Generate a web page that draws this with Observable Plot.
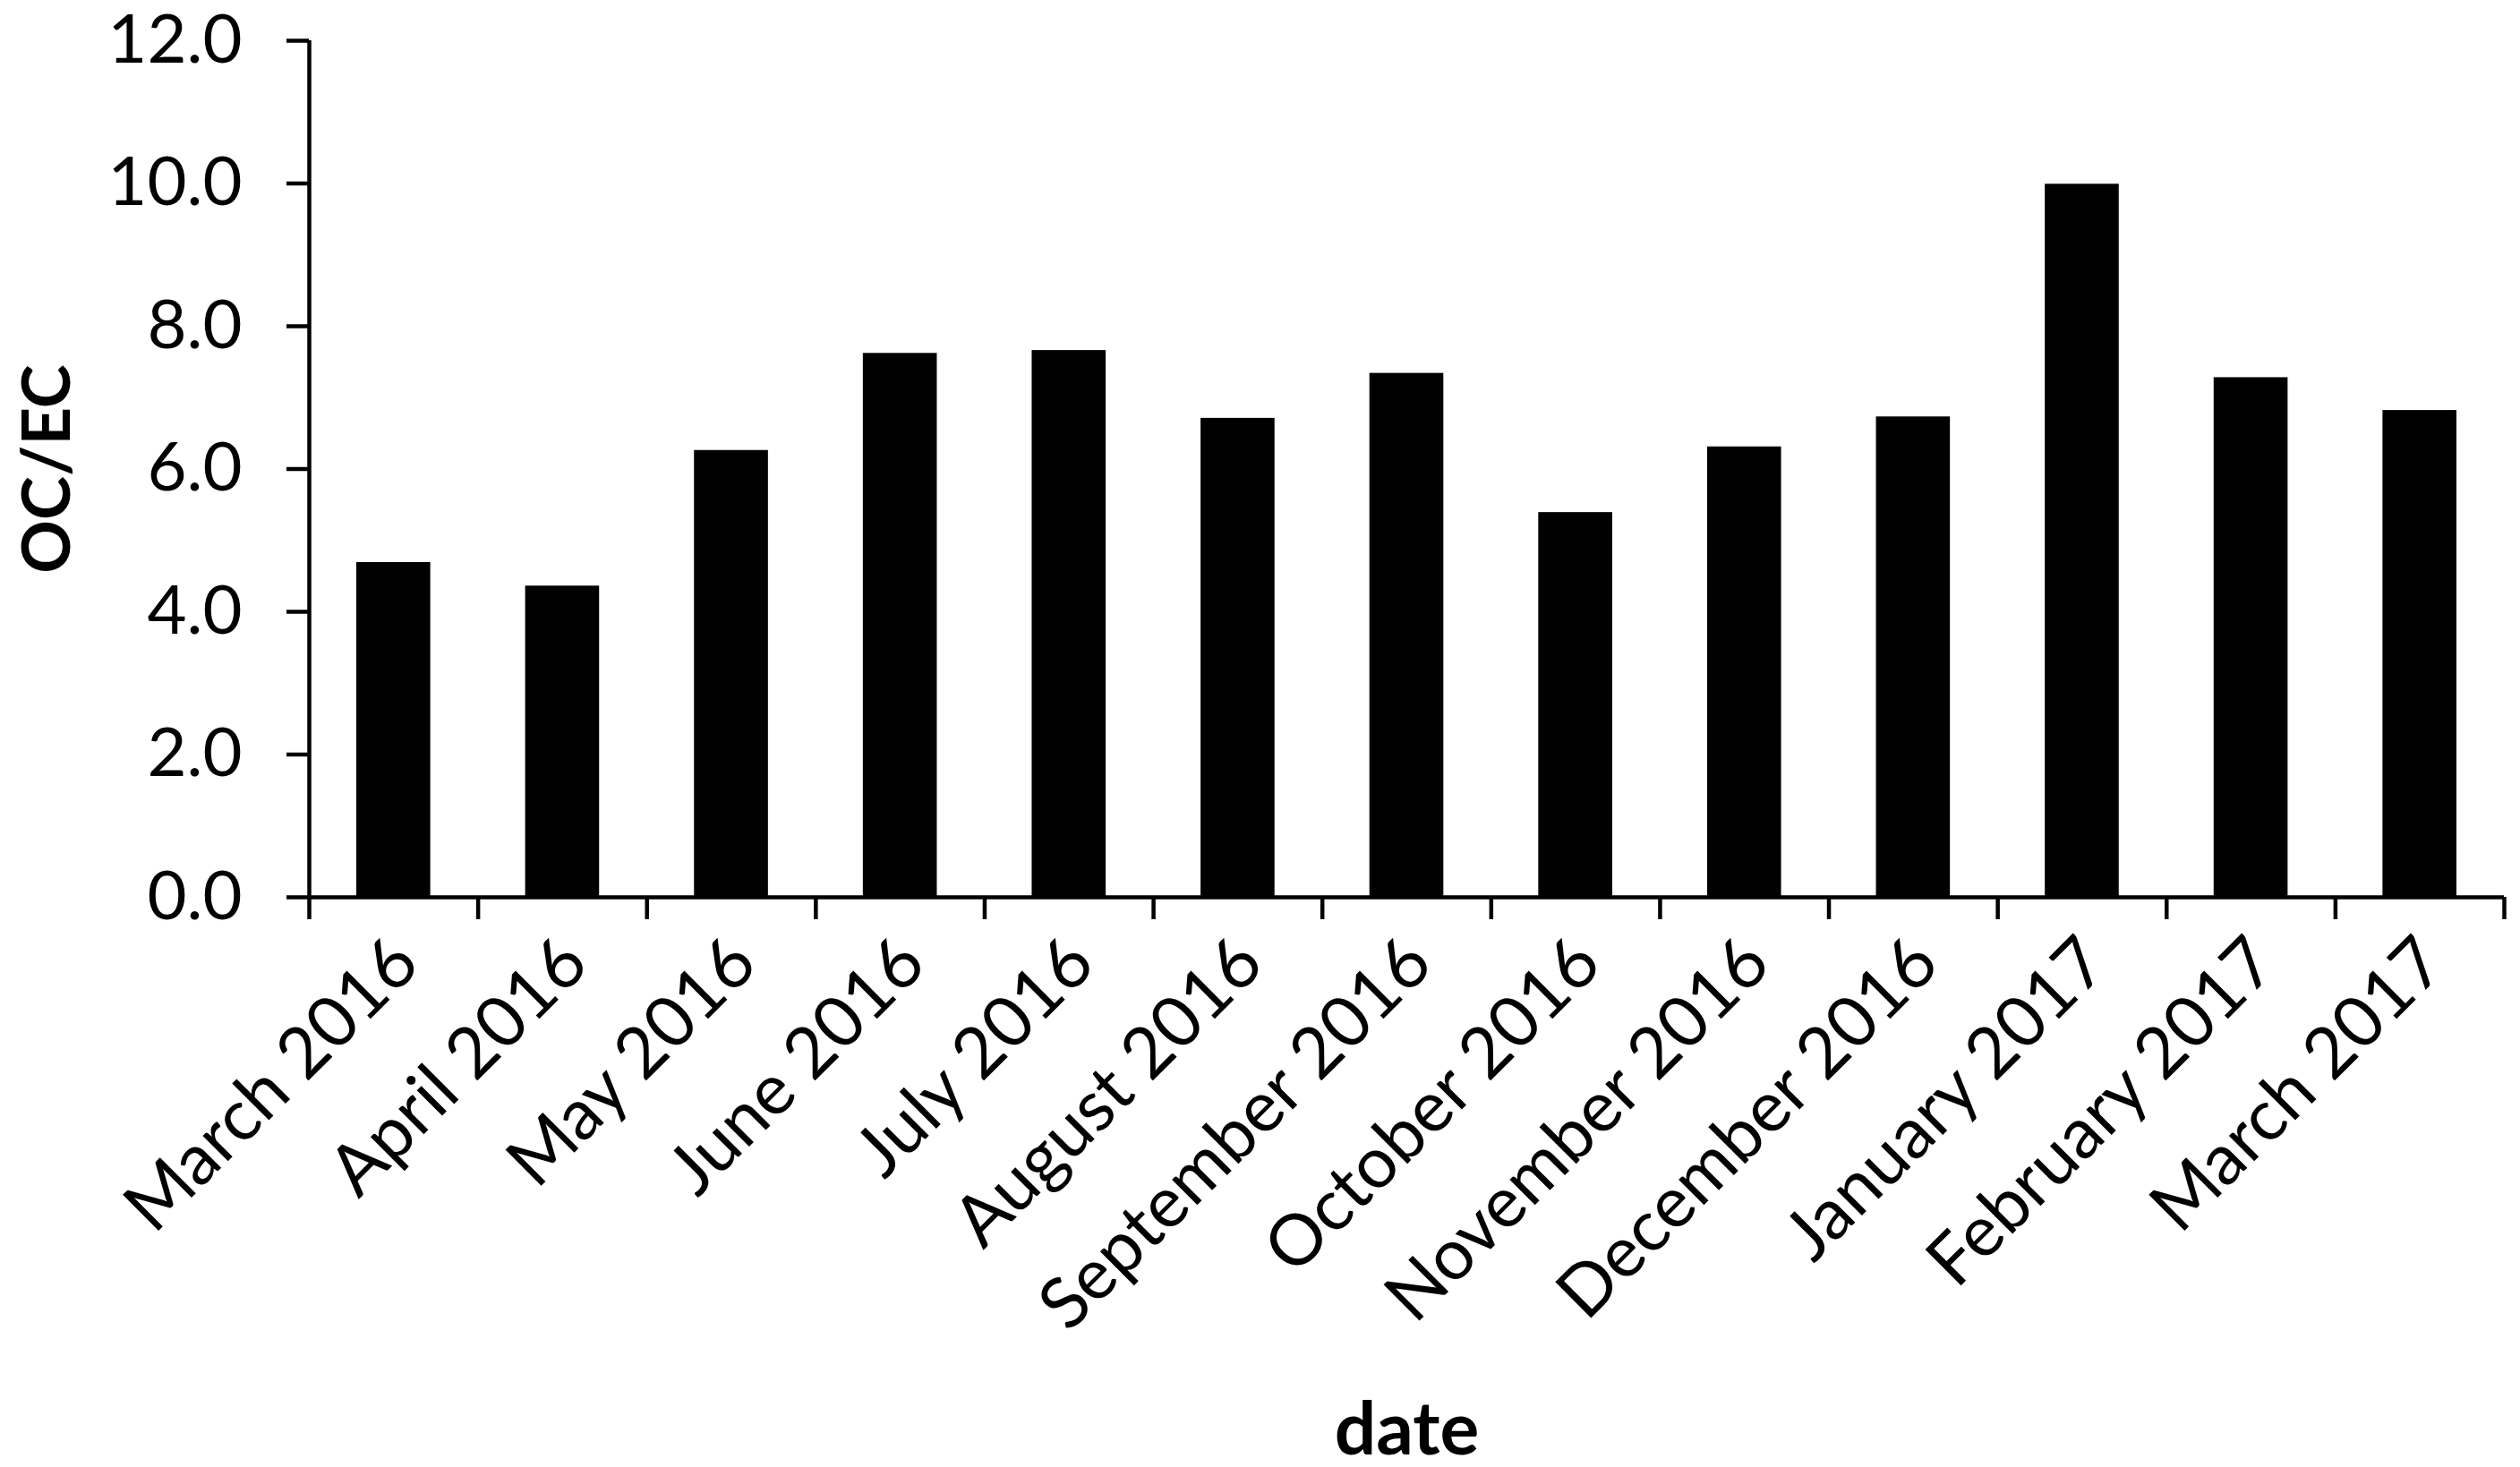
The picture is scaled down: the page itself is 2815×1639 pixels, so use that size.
<!DOCTYPE html>
<html>
<head>
<meta charset="utf-8">
<script src="https://cdn.jsdelivr.net/npm/d3@7"></script>
<script src="https://cdn.jsdelivr.net/npm/@observablehq/plot@0.6"></script>
<style>
  html, body { margin: 0; padding: 0; background: #fff; }
  #chart svg { display: block; overflow: visible; }
</style>
</head>
<body>
<div id="chart"></div>
<script>
const months = ["March 2016", "April 2016", "May 2016", "June 2016", "July 2016", "August 2016",
  "September 2016", "October 2016", "November 2016", "December 2016", "January 2017",
  "February 2017", "March 2017"];
const ocec = [4.69, 4.36, 6.26, 7.62, 7.66, 6.71, 7.34, 5.39, 6.31, 6.73, 9.99, 7.28, 6.82];
const yTicks = [0, 2, 4, 6, 8, 10, 12];
const yTitle = "OC/EC";
const xTitle = "date";

const rows = months.map((m, i) => ({month: m, i, value: ocec[i]}));
const font = "Lato, 'Open Sans', sans-serif";

const chart = Plot.plot({
  width: 2815,
  height: 1639,
  marginTop: 45,
  marginRight: 18,
  marginBottom: 637,
  marginLeft: 345,
  style: {fontFamily: font, fontSize: "76px", color: "#000", background: "#fff"},
  x: {type: "linear", domain: [0, months.length]},
  y: {domain: [0, 12]},
  marks: [
    Plot.rectY(rows, {x1: "i", x2: d => d.i + 1, y1: 0, y2: "value", fill: "#000", insetLeft: 53, insetRight: 53}),
    Plot.ruleX([0], {y1: 0, y2: 12, stroke: "#000", strokeWidth: 4.5}),
    Plot.ruleY([0], {stroke: "#000", strokeWidth: 4.5}),
    Plot.axisY({ticks: yTicks, tickFormat: d3.format(".1f"), tickSize: 25, tickPadding: 50, strokeWidth: 4.5, label: null, fontSize: 76}),
    Plot.axisX({ticks: d3.range(months.length + 1), tickFormat: () => "", tickSize: 25, strokeWidth: 4.5, label: null}),
    Plot.axisX({ticks: d3.range(months.length).map(i => i + 0.5), tickFormat: d => months[Math.floor(d)],
      tickSize: 0, tickRotate: -45, tickPadding: 60, dx: 14, label: null, fontSize: 79}),
    Plot.text([yTitle], {frameAnchor: "left", rotate: -90, dx: -291, text: d => d, fontWeight: "bold", fontSize: 74, textAnchor: "middle", lineAnchor: "middle"}),
    Plot.text([xTitle], {frameAnchor: "bottom", dy: 596, text: d => d, fontWeight: "bold", fontSize: 82, textAnchor: "middle", lineAnchor: "middle"})
  ]
});
document.getElementById("chart").appendChild(chart);
</script>
</body>
</html>
